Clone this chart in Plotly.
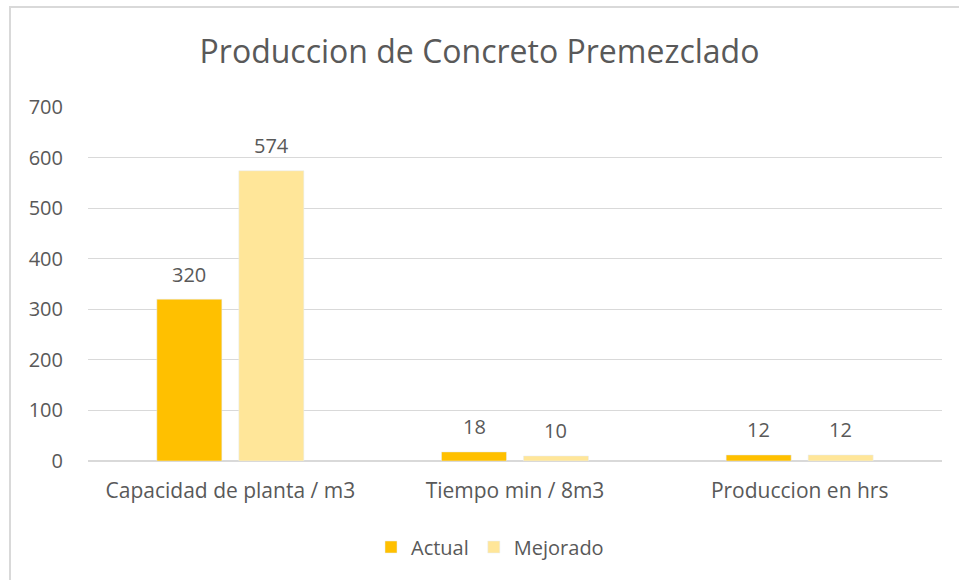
import plotly.graph_objects as go

categories = ["Capacidad de planta / m3", "Tiempo min / 8m3", "Produccion en hrs"]
actual = [320, 18, 12]
mejorado = [574, 10, 12]
y_ticks = [0, 100, 200, 300, 400, 500, 600, 700]

font_family = "Open Sans, Lato, sans-serif"
txt = "#595959"
col_actual = "#FFC000"
col_mejorado = "#FFE699"

W, H = 959, 580
l, t = 88, 107
r = W - 942
b = H - 461
pw, ph = W - l - r, H - t - b

def px_x(px):
    return (px - l) / pw

def px_y(py):
    return (H - b - py) / ph

bargap = 0.424
bargroupgap = 0.207
cat_w = pw / len(categories)
slot = cat_w * (1 - bargap) / 2

fig = go.Figure()
fig.add_trace(go.Bar(name="Actual", x=categories, y=actual, marker_color=col_actual))
fig.add_trace(go.Bar(name="Mejorado", x=categories, y=mejorado, marker_color=col_mejorado))

annotations = []
for series, sign in ((actual, -1), (mejorado, 1)):
    for c, v in zip(categories, series):
        annotations.append(dict(x=c, y=v, xref="x", yref="y", text=str(v), showarrow=False,
                                xshift=sign * slot / 2, yshift=25, yanchor="middle",
                                font=dict(size=20, color=txt, family=font_family)))

bx0, bx1 = px_x(10), px_x(975)
by0, by1 = px_y(600), px_y(7)
border_path = f"M {bx0},{by0} L {bx0},{by1} L {bx1},{by1}"

fig.update_layout(
    width=W, height=H,
    margin=dict(l=l, r=r, t=t, b=b),
    paper_bgcolor="white", plot_bgcolor="white",
    font=dict(family=font_family, color=txt, size=20),
    title=dict(text="Produccion de Concreto Premezclado", x=0.5, xanchor="center",
               y=1 - 52 / H, yanchor="middle", font=dict(size=32, color=txt)),
    barmode="group", bargap=bargap, bargroupgap=bargroupgap,
    showlegend=True,
    legend=dict(orientation="h", x=px_x(490), xanchor="center", y=px_y(547), yanchor="middle",
                font=dict(size=20, color=txt), traceorder="normal", itemwidth=30),
    xaxis=dict(showgrid=False, showline=False, ticks="", tickfont=dict(size=21, color=txt),
               ticklabelstandoff=15),
    yaxis=dict(range=[0, 700], tickvals=y_ticks, showgrid=True, gridcolor="#d9d9d9",
               zeroline=True, zerolinecolor="#d9d9d9", showline=False, ticks="",
               tickfont=dict(size=20, color=txt), ticklabelstandoff=24),
    annotations=annotations,
    shapes=[dict(type="path", xref="paper", yref="paper", path=border_path,
                 line=dict(color="#d9d9d9", width=2), layer="below")],
)

fig.write_html("out.html", config={"displayModeBar": False},
               post_script="document.body.style.margin='0';document.body.style.overflow='hidden';")
